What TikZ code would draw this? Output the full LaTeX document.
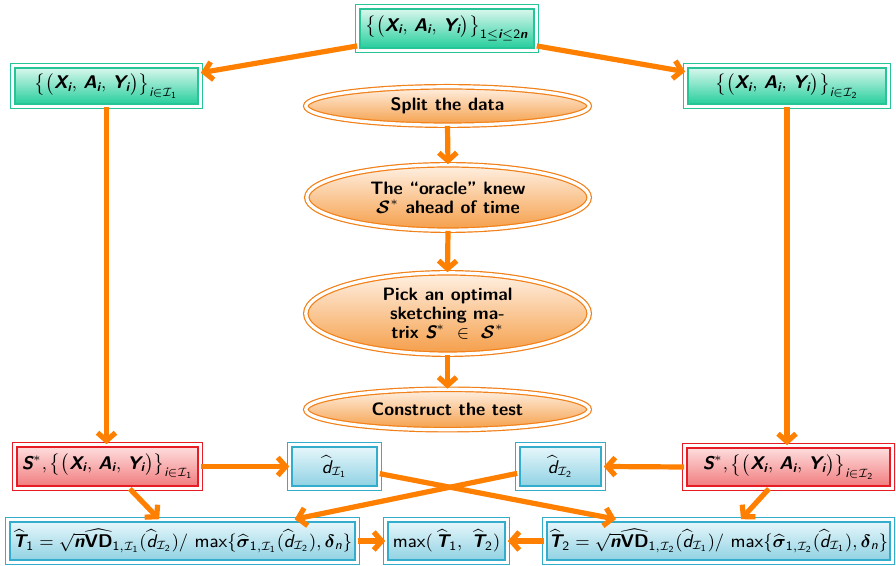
\documentclass[tikz,border=0pt]{standalone}
\usepackage{amsmath}
\usetikzlibrary{shapes.geometric,arrows.meta,calc}
\definecolor{gline}{RGB}{38,196,150}
\definecolor{gtop}{RGB}{226,249,241}
\definecolor{gbot}{RGB}{28,204,152}
\definecolor{rline}{RGB}{232,28,36}
\definecolor{rtop}{RGB}{255,226,226}
\definecolor{rbot}{RGB}{240,120,122}
\definecolor{bline}{RGB}{52,172,204}
\definecolor{btop}{RGB}{234,248,252}
\definecolor{bbot}{RGB}{140,208,226}
\definecolor{oline}{RGB}{242,128,24}
\definecolor{otop}{RGB}{255,241,228}
\definecolor{obot}{RGB}{245,158,72}
\definecolor{arrc}{RGB}{255,127,0}
\newcommand{\BV}[1]{\textsf{\bfseries\itshape #1}}
\newcommand{\RV}[1]{\textsf{\itshape #1}}
\newcommand{\SN}[1]{\textsf{#1}}
\newcommand{\XAY}{\bigl\{\bigl(\BV{X}_{\BV{i}},\, \BV{A}_{\BV{i}},\, \BV{Y}_{\BV{i}}\bigr)\bigr\}}
\tikzset{
  arr/.style={draw=arrc, line width=2.6pt, -{Straight Barb[length=4pt,width=9pt]}},
  dbl/.style={line width=0.6pt, double=white, double distance=1.6pt, inner sep=0pt},
  gbox/.style={dbl, rectangle, draw=gline, top color=gtop, bottom color=gbot},
  rbox/.style={dbl, rectangle, draw=rline, top color=rtop, bottom color=rbot},
  bbox/.style={dbl, rectangle, draw=bline, top color=btop, bottom color=bbot},
  ell/.style={dbl, ellipse, draw=oline, top color=otop, bottom color=obot,
    font=\sffamily\bfseries\fontsize{9}{9.5}\selectfont, align=center},
}
\begin{document}
\begin{tikzpicture}[x=0.5pt,y=-0.5pt,font=\sffamily\fontsize{9.2}{11}\selectfont]
\useasboundingbox (0,0) rectangle (896,566);
% top data
\node[gbox, minimum width=89.2pt, minimum height=21.7pt] (top) at (447,28.5)
  {$\XAY_{\SN{1}\le \BV{i}\le \SN{2}\BV{n}}$};
\node[gbox, minimum width=93.7pt, minimum height=20.2pt] (L) at (106.5,86)
  {$\XAY_{\RV{i}\in\mathcal{I}_{\SN{1}}}$};
\node[gbox, minimum width=101.2pt, minimum height=20.2pt] (R) at (787,86)
  {$\XAY_{\RV{i}\in\mathcal{I}_{\SN{2}}}$};
% ellipses
\node[ell, minimum width=141.7pt, minimum height=19.2pt] (e1) at (447.5,106) {Split the data};
\node[ell, minimum width=141.2pt, minimum height=32.7pt] (e2) at (448,197.5)
  {The ``oracle'' knew\\$\boldsymbol{\mathcal{S}}^*$ ahead of time};
\node[ell, minimum width=141.7pt, minimum height=40.7pt] (e3) at (447.5,313.5)
  {Pick an optimal\\sketching ma-\\trix $\BV{S}^*\ \in\ \boldsymbol{\mathcal{S}}^*$};
\node[ell, minimum width=141.7pt, minimum height=20.2pt] (e4) at (447.5,409.5) {Construct the test};
% red boxes
\node[rbox, minimum width=92.7pt, minimum height=21.7pt] (RL) at (107.5,466.5)
  {$\BV{S}^*, \XAY_{\RV{i}\in\mathcal{I}_{\SN{1}}}$};
\node[rbox, minimum width=103.7pt, minimum height=21.2pt] (RR) at (788.5,467)
  {$\BV{S}^*, \XAY_{\RV{i}\in\mathcal{I}_{\SN{2}}}$};
% d boxes
\node[bbox, minimum width=44.7pt, minimum height=21.7pt] (d1) at (334.5,466.5)
  {$\widehat{\RV{d}}_{\mathcal{I}_{\SN{1}}}$};
\node[bbox, minimum width=42.7pt, minimum height=21.7pt] (d2) at (560.5,466.5)
  {$\widehat{\RV{d}}_{\mathcal{I}_{\SN{2}}}$};
% bottom
\node[bbox, minimum width=174.7pt, minimum height=21.2pt] (BL) at (182.5,541)
  {$\widehat{\BV{T}}_{\SN{1}} = \sqrt{\BV{n}}\widehat{\textsf{\bfseries VD}}_{\SN{1},\mathcal{I}_{\SN{1}}}(\widehat{\RV{d}}_{\mathcal{I}_{\SN{2}}})/\ \SN{max}\{\widehat{\boldsymbol{\sigma}}_{\SN{1},\mathcal{I}_{\SN{1}}}(\widehat{\RV{d}}_{\mathcal{I}_{\SN{2}}}), \boldsymbol{\delta}_{\RV{n}}\}$};
\node[bbox, minimum width=60.7pt, minimum height=21.2pt] (M) at (446.5,541)
  {$\SN{max}(\,\widehat{\BV{T}}_{\SN{1}},\ \widehat{\BV{T}}_{\SN{2}})$};
\node[bbox, minimum width=173.7pt, minimum height=21.2pt] (BR) at (718.5,541)
  {$\widehat{\BV{T}}_{\SN{2}} = \sqrt{\BV{n}}\widehat{\textsf{\bfseries VD}}_{\SN{1},\mathcal{I}_{\SN{2}}}(\widehat{\RV{d}}_{\mathcal{I}_{\SN{1}}})/\ \SN{max}\{\widehat{\boldsymbol{\sigma}}_{\SN{1},\mathcal{I}_{\SN{2}}}(\widehat{\RV{d}}_{\mathcal{I}_{\SN{1}}}), \boldsymbol{\delta}_{\RV{n}}\}$};
% connectors
\draw[arr] (top.191) -- (L.8);
\draw[arr] (top.349) -- (R.172);
\draw[arr] (L.south) -- (L.south |- RL.north);
\draw[arr] (R.south) -- (R.south |- RR.north);
\draw[arr] (e1.south) -- (e2.north);
\draw[arr] (e2.south) -- (e3.north);
\draw[arr] (e3.south) -- (e4.north);
\draw[arr] (RL.east) -- (d1.west);
\draw[arr] (RR.west) -- (d2.east);
\draw[arr] (RL.-45) -- (BL.137);
\draw[arr] (RR.228) -- (BR.44);
\draw[arr] (d1.351) -- (BR.168);
\draw[arr] (d2.189.4) -- (BL.11.5);
\draw[arr] (BL.east) -- (M.west);
\draw[arr] (BR.west) -- (M.east);
\end{tikzpicture}
\end{document}
